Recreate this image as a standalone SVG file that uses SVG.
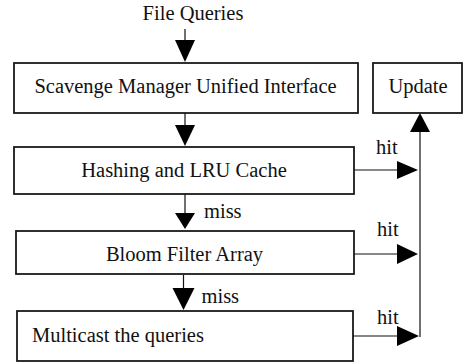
<svg xmlns="http://www.w3.org/2000/svg" width="463" height="364" viewBox="0 0 463 364">
<style>
.box{fill:#fff;stroke:#1a1a1a;stroke-width:1.8}
.t{font-family:"Liberation Serif","Times New Roman",serif;font-size:20.5px;fill:#111}
.m{text-anchor:middle}
.ln{stroke:#111;stroke-width:1.2;fill:none}
.hd{fill:#000;stroke:none}
</style>
<rect width="463" height="364" fill="#fff"/>
<text class="t m" x="193" y="20">File Queries</text>
<g id="n-scavenge"><rect class="box" x="14" y="63" width="344" height="50"/><text class="t m" x="185.5" y="93">Scavenge Manager Unified Interface</text></g>
<g id="n-update"><rect class="box" x="373" y="63" width="89" height="50"/><text class="t m" x="418" y="93">Update</text></g>
<g id="n-hash"><rect class="box" x="14" y="147" width="340" height="47"/><text class="t m" x="184" y="177">Hashing and LRU Cache</text></g>
<g id="n-bloom"><rect class="box" x="16" y="231" width="338" height="43"/><text class="t m" x="184.5" y="261">Bloom Filter Array</text></g>
<g id="n-multi"><rect class="box" x="17" y="311" width="336" height="50"/><text class="t" x="32" y="342">Multicast the queries</text></g>
<g id="connectors">
<line class="ln" x1="185" y1="29" x2="185" y2="45"/><polygon class="hd" points="175,40 195,40 185,62"/>
<line class="ln" x1="185" y1="113" x2="185" y2="130"/><polygon class="hd" points="175,125 195,125 185,146"/>
<line class="ln" x1="185" y1="194" x2="185" y2="216"/><polygon class="hd" points="175,213 195,213 185,229"/>
<text class="t" x="204" y="218">miss</text>
<line class="ln" x1="183.5" y1="275" x2="183.5" y2="292"/><polygon class="hd" points="172.5,288 194.5,288 183.5,310"/>
<text class="t" x="201.5" y="303">miss</text>
<line class="ln" x1="354" y1="170" x2="400" y2="170"/><polygon class="hd" points="397,161 397,179 418,170"/>
<text class="t" x="376" y="154">hit</text>
<line class="ln" x1="354" y1="254" x2="400" y2="254"/><polygon class="hd" points="397,244 397,264 418,254"/>
<text class="t" x="377" y="236">hit</text>
<line class="ln" x1="353" y1="336" x2="400" y2="336"/><polygon class="hd" points="397,326 397,346 419,336"/>
<text class="t" x="377" y="324">hit</text>
<line class="ln" x1="420" y1="337" x2="420" y2="128"/><polygon class="hd" points="410,132 430,132 420,113"/>
</g>
</svg>
